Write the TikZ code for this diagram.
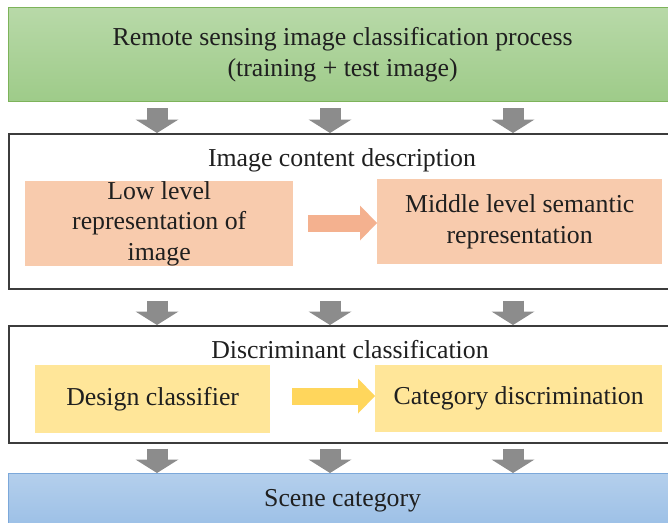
\documentclass[tikz,border=0pt]{standalone}
\usepackage{fontspec}
\setmainfont{Liberation Serif}
\usetikzlibrary{calc, arrows.meta}

\definecolor{greentop}{HTML}{B8D9A8}
\definecolor{greenbot}{HTML}{9ECB89}
\definecolor{greenline}{HTML}{7DB35A}
\definecolor{bluetop}{HTML}{B4CFEC}
\definecolor{bluebot}{HTML}{9BBFE6}
\definecolor{blueline}{HTML}{7CA8DA}
\definecolor{orangebox}{HTML}{F8CBAD}
\definecolor{orangearr}{HTML}{F4B18F}
\definecolor{yellowbox}{HTML}{FFE699}
\definecolor{yellowarr}{HTML}{FFD65C}
\definecolor{arrgray}{HTML}{8C8C8C}
\definecolor{frame}{HTML}{3C3C3C}

\begin{document}
\begin{tikzpicture}[x=1pt, y=-1pt,
  txt/.style={font=\fontsize{25.8}{30.8}\selectfont, text=black!88, align=center},
  box/.style={txt, rectangle, inner sep=0pt, anchor=north west},
  panel/.style={box, draw=frame, line width=1.6pt, fill=white},
  grayflow/.style={draw=arrgray, line width=21pt,
    -{Triangle[width=43pt, length=13.5pt, line width=0pt]}},
  sideflow/.style={line width=17pt,
    -{Triangle[width=35pt, length=17pt, line width=0pt]}}
]
  \useasboundingbox (0,0) rectangle (668,522);

  % input
  \node[box, minimum width=668pt, minimum height=94pt, draw=greenline,
    line width=1.2pt, top color=greentop, bottom color=greenbot]
    (input) at (8,7) {Remote sensing image classification process\\(training + test image)};

  % image content description
  \node[panel, minimum width=668pt, minimum height=155pt] (desc) at (8,133) {};
  \node[txt] (desctitle) at (342,160) {Image content description};
  \node[box, fill=orangebox, minimum width=268pt, minimum height=85pt]
    (low) at (25,181) {Low level\\representation of\\image};
  \node[box, fill=orangebox, minimum width=285pt, minimum height=85pt]
    (mid) at (377,179) {Middle level semantic\\representation};
  \draw[sideflow, draw=orangearr, shorten <=15pt]
    (low.east |- 0,223) -- (mid.west |- 0,223);

  % discriminant classification
  \node[panel, minimum width=668pt, minimum height=117pt] (disc) at (8,325) {};
  \node[txt] (disctitle) at (350,350) {Discriminant classification};
  \node[box, fill=yellowbox, minimum width=235pt, minimum height=68pt]
    (design) at (35,365) {Design classifier};
  \node[box, fill=yellowbox, minimum width=287pt, minimum height=67pt]
    (catdisc) at (375,365) {Category discrimination};
  \draw[sideflow, draw=yellowarr, shorten <=22pt]
    (design.east |- 0,396) -- (catdisc.west |- 0,396);

  % output
  \node[box, minimum width=668pt, minimum height=55pt, draw=blueline,
    line width=1.2pt, top color=bluetop, bottom color=bluebot]
    (scene) at (8,473) {Scene category};

  % flow between the stages
  \foreach \x in {157,330,513} {
    \draw[grayflow, shorten <=6pt] (\x,0 |- input.south) -- (\x,0 |- desc.north);
    \draw[grayflow, shorten <=11pt] (\x,0 |- desc.south) -- (\x,0 |- disc.north);
    \draw[grayflow, shorten <=5pt] (\x,0 |- disc.south) -- (\x,0 |- scene.north);
  }
\end{tikzpicture}
\end{document}
